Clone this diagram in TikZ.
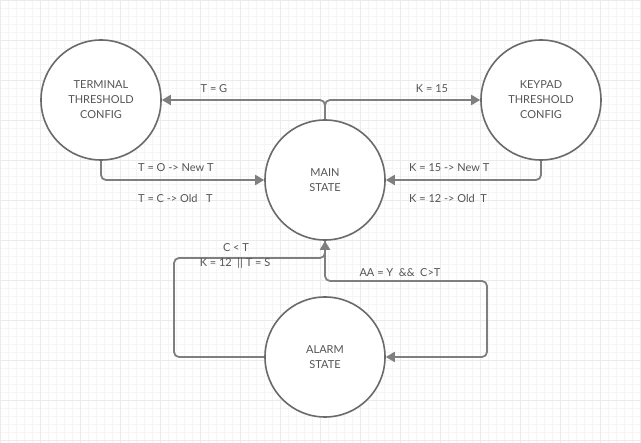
\documentclass[tikz,border=0pt]{standalone}
\usepackage{fontspec}
\setmainfont{Lato}
\usetikzlibrary{arrows.meta}
\definecolor{gmajor}{HTML}{EBEBEB}
\definecolor{gminor}{HTML}{F5F5F5}
\definecolor{linec}{HTML}{7F7F7F}
\definecolor{circc}{HTML}{6A6A6A}
\definecolor{textc}{HTML}{555555}
\tikzset{
  state/.style={circle, draw=circc, line width=1.6pt, fill=white, minimum size=120pt, inner sep=0pt,
    align=center, text=textc, font=\fontsize{11}{15}\selectfont},
  conn/.style={draw=linec, line width=1.8pt, rounded corners=5pt, -{Triangle[length=9pt,width=10pt]}},
  lbl/.style={text=textc, font=\fontsize{11}{13}\selectfont, inner sep=0pt},
}
\begin{document}
\begin{tikzpicture}[x=1pt,y=-1pt]
\useasboundingbox (0,0) rectangle (641,443);
\fill[white] (0,0) rectangle (641,443);
\foreach \i in {0,8,...,640} \draw[gminor, line width=0.8pt] (\i+0.7,0) -- (\i+0.7,443);
\foreach \i in {0,8,...,440} \draw[gminor, line width=0.8pt] (0,\i+0.7) -- (641,\i+0.7);
\foreach \i in {0,40,...,640} \draw[gmajor, line width=1.2pt] (\i+0.7,0) -- (\i+0.7,443);
\foreach \i in {0,40,...,440} \draw[gmajor, line width=1.2pt] (0,\i+0.7) -- (641,\i+0.7);

\node[state] (term) at (101,100) {TERMINAL\\THRESHOLD\\CONFIG};
\node[state] (key) at (541,100) {KEYPAD\\THRESHOLD\\CONFIG};
\node[state] (main) at (325,180) {MAIN\\STATE};
\node[state] (alarm) at (325,357) {ALARM\\STATE};

\coordinate (cl) at (174,258);
\coordinate (cr) at (487,281);

\draw[conn] (main.north) |- (term.east);
\draw[conn] (main.north) |- (key.west);
\draw[conn] (term.south) |- (main.west);
\draw[conn] (key.south) |- (main.east);
\draw[conn] (alarm.west) -| (cl) -| (main.south);
\draw[conn] (main.south) |- (cr) |- (alarm.east);

\node[lbl] (l1) at (214,89) {T = G};
\node[lbl] (l2) at (432,89) {K = 15};
\node[lbl, anchor=west] (l3) at (138,168) {T = O -> New T};
\node[lbl, anchor=west] (l4) at (138,198) {T = C -> Old\ \ \ T};
\node[lbl, anchor=west] (l5) at (409,168) {K = 15 -> New T};
\node[lbl, anchor=west] (l6) at (409,198) {K = 12 -> Old\ \ T};
\node[lbl] (l7) at (236,248) {C < T};
\node[lbl] (l8) at (235,263) {K = 12\ \ || T = S};
\node[lbl] (l9) at (400,273) {AA = Y\ \ \&\&\ \ C>T};
\end{tikzpicture}
\end{document}
